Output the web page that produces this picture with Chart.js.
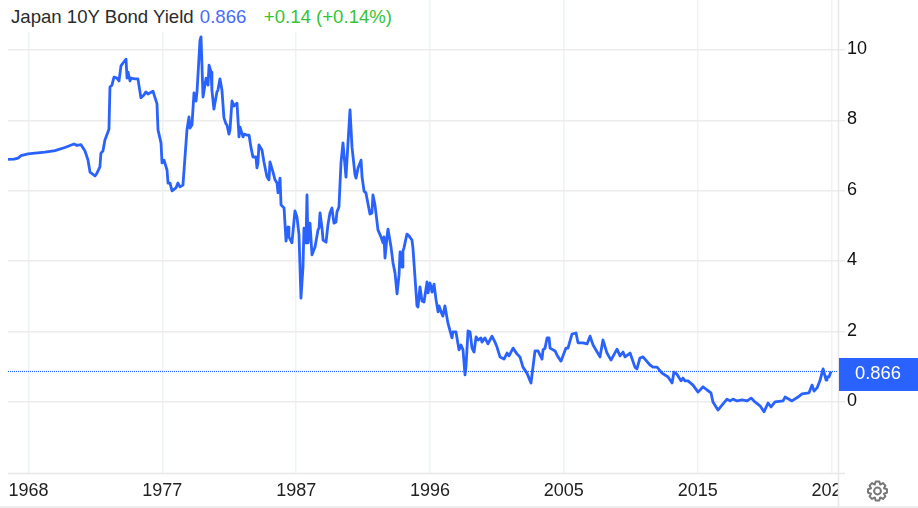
<!DOCTYPE html>
<html>
<head>
<meta charset="utf-8">
<title>Japan 10Y Bond Yield</title>
<script src="https://cdn.jsdelivr.net/npm/chart.js@4"></script>
<style>
    html, body { margin: 0; padding: 0; background: #fff; }
    #wrap { position: relative; width: 918px; height: 508px; overflow: hidden; }
    #title {
        position: absolute; left: 8px; top: 0; width: 400px; height: 32px; background: #fff;
        font: 18.6px "Liberation Sans", Arial, sans-serif; line-height: 34px; white-space: pre;
        color: #2b2b2b; text-indent: 3px;
    }
    #title .last { color: #4a6cf7; margin-left: 1px; }
    #title .change { color: #35c435; margin-left: 2px; }
</style>
</head>
<body>
<div id="wrap">
    <canvas id="myChart" width="918" height="508"></canvas>
    <div id="title"></div>
</div>
<script>
var seriesName = 'Japan 10Y Bond Yield';
var lastValue = 0.866;
var changeText = '+0.14 (+0.14%)';

var years = [
    1966.57, 1966.99, 1967.27, 1967.48, 1967.96, 1968.45, 1969.15, 1969.85, 1970.54, 1971.17,
    1971.38, 1971.66, 1971.94, 1972.15, 1972.29, 1972.64, 1972.77, 1972.98, 1973.05, 1973.19,
    1973.33, 1973.61, 1973.68, 1973.82, 1973.96, 1974.17, 1974.31, 1974.45, 1974.59, 1974.80,
    1974.87, 1974.94, 1975.08, 1975.15, 1975.42, 1975.63, 1975.84, 1976.05, 1976.19, 1976.33,
    1976.68, 1976.96, 1977.03, 1977.24, 1977.31, 1977.45, 1977.66, 1977.73, 1977.87, 1978.01,
    1978.28, 1978.42, 1978.56, 1978.77, 1979.05, 1979.19, 1979.26, 1979.40, 1979.54, 1979.68,
    1979.75, 1979.96, 1980.03, 1980.17, 1980.38, 1980.52, 1980.59, 1980.73, 1980.79, 1980.93,
    1981.14, 1981.21, 1981.35, 1981.49, 1981.63, 1981.77, 1981.84, 1981.98, 1982.05, 1982.19,
    1982.33, 1982.54, 1982.68, 1982.75, 1982.96, 1983.03, 1983.24, 1983.38, 1983.51, 1983.65,
    1983.86, 1983.93, 1984.00, 1984.07, 1984.28, 1984.42, 1984.63, 1984.77, 1984.84, 1985.05,
    1985.19, 1985.33, 1985.40, 1985.54, 1985.61, 1985.82, 1985.96, 1986.10, 1986.16, 1986.37,
    1986.58, 1986.72, 1986.86, 1987.00, 1987.14, 1987.21, 1987.35, 1987.42, 1987.49, 1987.63,
    1987.77, 1987.98, 1988.19, 1988.26, 1988.33, 1988.47, 1988.54, 1988.75, 1988.88, 1989.02,
    1989.16, 1989.30, 1989.44, 1989.51, 1989.65, 1989.79, 1989.93, 1990.14, 1990.28, 1990.42,
    1990.56, 1990.77, 1990.84, 1990.98, 1991.19, 1991.26, 1991.40, 1991.53, 1991.81, 1991.95,
    1992.02, 1992.16, 1992.37, 1992.58, 1992.72, 1992.79, 1992.86, 1993.00, 1993.07, 1993.28,
    1993.42, 1993.56, 1993.70, 1993.84, 1993.91, 1994.05, 1994.11, 1994.18, 1994.39, 1994.53,
    1994.74, 1994.81, 1994.95, 1995.09, 1995.16, 1995.30, 1995.44, 1995.58, 1995.79, 1995.86,
    1996.00, 1996.14, 1996.28, 1996.42, 1996.56, 1996.63, 1996.77, 1996.90, 1997.04, 1997.25,
    1997.53, 1997.60, 1997.81, 1998.02, 1998.16, 1998.30, 1998.44, 1998.51, 1998.65, 1998.79,
    1998.93, 1999.07, 1999.21, 1999.35, 1999.55, 1999.62, 1999.83, 2000.04, 2000.18, 2000.32,
    2000.53, 2000.67, 2000.88, 2001.16, 2001.37, 2001.51, 2001.79, 2002.07, 2002.27, 2002.48,
    2002.76, 2003.04, 2003.32, 2003.53, 2003.81, 2003.88, 2004.02, 2004.16, 2004.30, 2004.37,
    2004.72, 2004.86, 2005.13, 2005.48, 2005.62, 2005.90, 2006.18, 2006.32, 2006.67, 2006.95,
    2007.16, 2007.37, 2007.85, 2008.06, 2008.34, 2008.62, 2009.04, 2009.25, 2009.46, 2009.60,
    2009.95, 2010.29, 2010.43, 2010.64, 2010.85, 2011.34, 2011.55, 2011.83, 2012.18, 2012.60,
    2012.88, 2013.01, 2013.22, 2013.50, 2013.64, 2013.78, 2013.99, 2014.34, 2014.69, 2015.04,
    2015.32, 2015.59, 2015.73, 2016.08, 2016.36, 2016.71, 2016.92, 2017.13, 2017.41, 2017.76,
    2018.11, 2018.39, 2018.66, 2019.01, 2019.29, 2019.57, 2019.78, 2020.06, 2020.62, 2020.76,
    2021.24, 2021.66, 2021.94, 2022.43, 2022.64, 2022.78, 2022.99, 2023.20, 2023.41, 2023.62,
    2023.68, 2023.82, 2023.96
];

var yields = [
    6.89, 6.90, 6.93, 7.00, 7.05, 7.07, 7.10, 7.14, 7.23, 7.33,
    7.29, 7.31, 7.13, 6.87, 6.53, 6.42, 6.50, 6.68, 7.07, 7.13,
    7.44, 7.75, 8.95, 9.00, 9.23, 9.20, 9.12, 9.55, 9.63, 9.74,
    9.20, 9.37, 9.12, 9.20, 9.18, 9.18, 8.64, 8.72, 8.81, 8.75,
    8.83, 8.47, 7.73, 7.36, 6.79, 6.87, 6.59, 6.22, 6.22, 6.00,
    6.08, 6.22, 6.11, 6.16, 7.73, 8.10, 7.78, 7.87, 8.78, 8.55,
    8.81, 10.28, 10.37, 8.66, 9.20, 9.00, 9.57, 9.37, 8.86, 8.32,
    8.81, 8.86, 9.18, 8.86, 8.07, 7.90, 7.87, 7.61, 7.73, 8.55,
    8.41, 8.49, 7.53, 7.81, 7.53, 7.61, 7.58, 7.58, 7.24, 6.96,
    6.96, 6.65, 6.79, 7.30, 7.16, 6.82, 6.39, 6.31, 6.82, 6.53,
    6.31, 6.22, 5.94, 6.36, 5.60, 5.51, 4.57, 4.97, 4.69, 4.52,
    5.43, 5.26, 4.77, 2.95, 3.83, 4.94, 4.52, 5.88, 4.52, 5.08,
    4.18, 4.40, 4.89, 4.94, 5.37, 4.94, 4.60, 4.54, 5.03, 5.37,
    5.51, 5.08, 5.11, 5.40, 5.54, 6.79, 7.36, 6.39, 7.36, 8.30,
    7.24, 6.45, 6.36, 6.65, 6.87, 6.39, 5.99, 5.94, 5.34, 5.37,
    5.88, 5.60, 4.89, 4.69, 4.52, 4.69, 4.09, 4.69, 4.91, 4.40,
    3.95, 3.66, 3.07, 3.61, 4.26, 3.83, 4.29, 4.37, 4.77, 4.72,
    4.60, 4.37, 3.55, 2.73, 2.70, 3.27, 2.87, 2.84, 3.41, 3.10,
    3.38, 3.12, 3.35, 2.90, 2.56, 2.73, 2.56, 2.44, 2.73, 2.24,
    1.82, 1.99, 1.99, 1.48, 1.62, 1.48, 0.77, 1.02, 2.02, 1.99,
    1.53, 1.42, 1.85, 1.76, 1.82, 1.70, 1.82, 1.65, 1.76, 1.87,
    1.70, 1.56, 1.28, 1.22, 1.39, 1.31, 1.53, 1.36, 1.28, 0.99,
    0.82, 0.54, 1.45, 1.45, 1.22, 1.48, 1.53, 1.82, 1.82, 1.53,
    1.45, 1.33, 1.16, 1.53, 1.53, 1.93, 1.96, 1.68, 1.68, 1.65,
    1.87, 1.62, 1.28, 1.76, 1.39, 1.19, 1.50, 1.31, 1.42, 1.28,
    1.39, 0.99, 0.94, 1.25, 1.28, 1.05, 0.99, 0.99, 0.82, 0.71,
    0.54, 0.85, 0.79, 0.60, 0.68, 0.60, 0.60, 0.48, 0.28, 0.43,
    0.34, 0.26, 0.00, -0.23, -0.09, 0.08, 0.03, 0.08, 0.03, 0.06,
    0.03, 0.11, 0.00, -0.11, -0.28, -0.03, -0.14, 0.00, 0.03, 0.14,
    0.03, 0.14, 0.23, 0.26, 0.48, 0.31, 0.40, 0.62, 0.94, 0.62,
    0.71, 0.71, 0.866
];

var xTicks = [1968, 1977.33, 1986.67, 1996, 2005.33, 2014.67, 2024];
var xTickLabels = ['1968', '1977', '1987', '1996', '2005', '2015', '2024'];
var yTicks = [0, 2, 4, 6, 8, 10];

var xMin = 1966.57, xMax = 2024.45;
var yMin = -2.018, yMax = 11.42;

var linePoints = years.map(function(year, i) {
    return { x: year, y: yields[i] };
});

var blue = '#2962ff';
var fontName = '"Liberation Sans", Arial, sans-serif';

document.getElementById('title').innerHTML = seriesName +
    ' <span class="last">' + lastValue + '</span>   <span class="change">' + changeText + '</span>';

// the frame, last price tag and settings icon are not part of the scales
var overlay = {
    id: 'overlay',
    afterDraw: function(chart) {
        var ctx = chart.ctx;
        var area = chart.chartArea;
        var y = chart.scales.y.getPixelForValue(lastValue);

        ctx.save();
        // the last x label is cut off by the price axis column
        ctx.fillStyle = '#fff';
        ctx.fillRect(area.right, area.bottom + 1, 80, 35);

        ctx.strokeStyle = '#e8e8e8';
        ctx.lineWidth = 1.5;
        ctx.beginPath();
        ctx.moveTo(area.left, area.bottom + 0.5);
        ctx.lineTo(845, area.bottom + 0.5);
        ctx.moveTo(area.right + 0.5, 0);
        ctx.lineTo(area.right + 0.5, 507);
        ctx.moveTo(0, 507);
        ctx.lineTo(918, 507);
        ctx.stroke();

        ctx.fillStyle = blue;
        ctx.fillRect(area.right + 1, y - 13.5, 79, 33);
        ctx.fillStyle = '#fff';
        ctx.font = '18.4px ' + fontName;
        ctx.textAlign = 'center';
        ctx.textBaseline = 'middle';
        ctx.fillText(String(lastValue), 878, y + 2);

        // gear
        var cx = 877.5, cy = 491, teeth = 8;
        ctx.strokeStyle = '#777';
        ctx.lineWidth = 2;
        ctx.lineJoin = 'round';
        ctx.beginPath();
        for (var i = 0; i < teeth; i++) {
            var a = (i / teeth) * Math.PI * 2;
            var step = Math.PI * 2 / teeth;
            var pts = [[7, -0.5], [9.6, -0.24], [9.6, 0.24], [7, 0.5]];
            pts.forEach(function(p, j) {
                var px = cx + p[0] * Math.cos(a + p[1] * step);
                var py = cy + p[0] * Math.sin(a + p[1] * step);
                if (i === 0 && j === 0) ctx.moveTo(px, py); else ctx.lineTo(px, py);
            });
        }
        ctx.closePath();
        ctx.moveTo(cx + 3.4, cy);
        ctx.arc(cx, cy, 3.4, 0, Math.PI * 2);
        ctx.stroke();
        ctx.restore();
    }
};

var ctx = document.getElementById('myChart');
var lineChart = new Chart(ctx, {
    type: 'line',
    data: {
        datasets: [
            {
                label: seriesName,
                data: linePoints,
                borderColor: blue,
                borderWidth: 2.8,
                borderJoinStyle: 'round',
                pointRadius: 0,
                tension: 0
            },
            {
                label: 'Last',
                data: [{ x: xMin, y: lastValue }, { x: xMax, y: lastValue }],
                borderColor: blue,
                borderWidth: 1.2,
                borderDash: [1, 1],
                pointRadius: 0
            }
        ]
    },
    options: {
        responsive: false,
        animation: false,
        layout: { padding: { left: 8, top: 0, right: 0, bottom: 0 } },
        plugins: {
            legend: { display: false },
            title: { display: false },
            tooltip: { enabled: false }
        },
        scales: {
            x: {
                type: 'linear',
                min: xMin,
                max: xMax,
                afterFit: function(scale) {
                    scale.height = 35;
                    scale.paddingLeft = 0;
                    scale.paddingRight = 0;
                },
                afterBuildTicks: function(scale) {
                    scale.ticks = xTicks.map(function(v) { return { value: v }; });
                },
                grid: { color: '#eef3f8', lineWidth: 1.5, drawTicks: false },
                border: { display: false },
                ticks: {
                    color: '#222',
                    font: { family: fontName, size: 18 },
                    padding: 7,
                    maxRotation: 0,
                    autoSkip: false,
                    callback: function(value, index) { return xTickLabels[index]; }
                }
            },
            y: {
                position: 'right',
                min: yMin,
                max: yMax,
                afterFit: function(scale) {
                    scale.width = 80;
                    // no room kept for half labels, plot runs to the canvas top
                    scale.paddingTop = 0;
                    scale.paddingBottom = 0;
                },
                afterBuildTicks: function(scale) {
                    scale.ticks = yTicks.map(function(v) { return { value: v }; });
                },
                grid: { color: '#ececec', lineWidth: 1.5, tickLength: 7 },
                border: { display: false },
                ticks: {
                    color: '#111',
                    font: { family: fontName, size: 18, lineHeight: '2px' },
                    padding: 2,
                    // empty second line lifts the label a little above its gridline
                    callback: function(value) { return [String(value), '']; }
                }
            }
        }
    },
    plugins: [overlay]
});
</script>
</body>
</html>
